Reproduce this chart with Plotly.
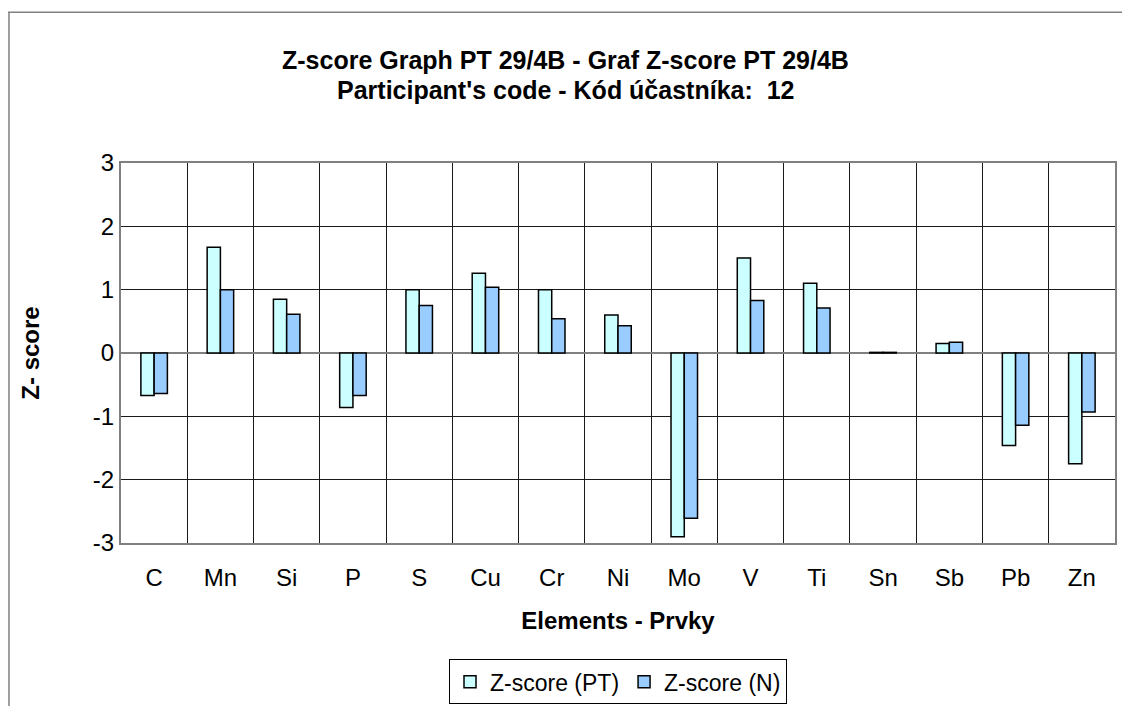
import plotly.graph_objects as go

elements = ["C", "Mn", "Si", "P", "S", "Cu", "Cr", "Ni", "Mo", "V", "Ti", "Sn", "Sb", "Pb", "Zn"]
z_pt = [-0.67, 1.67, 0.85, -0.86, 1.00, 1.26, 1.00, 0.60, -2.90, 1.50, 1.10, 0.01, 0.15, -1.46, -1.75]
z_n = [-0.64, 1.00, 0.61, -0.67, 0.75, 1.04, 0.54, 0.43, -2.61, 0.83, 0.71, 0.01, 0.17, -1.14, -0.93]
y_ticks = [-3, -2, -1, 0, 1, 2, 3]
y_tick_labels = ["-3", "-2", "-1", "0", "1", "2", "3"]

FONT = "Liberation Sans, Arial, sans-serif"
FS = 24
x_idx = list(range(len(elements)))
boundaries = [i - 0.5 for i in range(len(elements) + 1)]

fig = go.Figure()
fig.add_trace(go.Bar(x=x_idx, y=z_pt, name="Z-score (PT)",
                     marker=dict(color="#CCFFFF", line=dict(color="#000000", width=1.5))))
fig.add_trace(go.Bar(x=x_idx, y=z_n, name="Z-score (N)",
                     marker=dict(color="#99CCFF", line=dict(color="#000000", width=1.5))))
# invisible trace to activate the category-boundary grid axis
fig.add_trace(go.Scatter(x=boundaries, y=[0] * len(boundaries), xaxis="x2", mode="none",
                         showlegend=False, hoverinfo="skip"))

fig.update_layout(
    width=1122, height=698,
    paper_bgcolor="white", plot_bgcolor="white",
    margin=dict(l=113, r=15, t=155, b=163, autoexpand=False),
    barmode="group", bargap=0.6, bargroupgap=0,
    font=dict(family=FONT, size=FS, color="#000000"),
    showlegend=True,
    legend=dict(orientation="h", x=0.5, xanchor="center", y=-0.306, yanchor="top",
                bordercolor="#000000", borderwidth=1, font=dict(size=23),
                traceorder="normal", itemwidth=30, tracegroupgap=0),
    xaxis=dict(range=[-0.5, len(elements) - 0.5], tickmode="array", tickvals=x_idx,
               ticktext=elements, showgrid=False, zeroline=False, ticks="",
               ticklabelstandoff=12,
               showline=True, linecolor="#808080", linewidth=2, mirror=True,
               title=dict(text="<b>Elements - Prvky</b>", font=dict(size=FS), standoff=22)),
    xaxis2=dict(overlaying="x", range=[-0.5, len(elements) - 0.5], tickmode="array",
                tickvals=boundaries, showticklabels=False, showgrid=True,
                gridcolor="#1a1a1a", gridwidth=1, zeroline=False, side="bottom"),
    yaxis=dict(range=[-3, 3], tickmode="array", tickvals=y_ticks, ticktext=y_tick_labels,
               showgrid=True, gridcolor="#1a1a1a", gridwidth=1, zeroline=True,
               zerolinecolor="#808080", zerolinewidth=2, showline=True, linecolor="#808080",
               linewidth=2, mirror=True, ticks="", ticklabelstandoff=0,
               title=dict(text="<b>Z- score</b>", font=dict(size=FS), standoff=46)),
    annotations=[
        dict(text="<b>Z-score Graph PT 29/4B - Graf Z-score PT 29/4B</b>", xref="paper", yref="paper",
             x=0.447, y=1.271, xanchor="center", yanchor="middle", showarrow=False,
             font=dict(size=25)),
        dict(text="<b>Participant's code - Kód účastníka:  12</b>", xref="paper", yref="paper",
             x=0.447, y=1.192, xanchor="center", yanchor="middle", showarrow=False,
             font=dict(size=25)),
    ],
    shapes=[
        dict(type="line", xref="paper", yref="paper", x0=-0.1137, x1=1.02, y0=1.397, y1=1.397,
             line=dict(color="#808080", width=1.5)),
        dict(type="line", xref="paper", yref="paper", x0=-0.1127, x1=-0.1127, y0=1.397, y1=-0.43,
             line=dict(color="#808080", width=1.5)),
    ],
)

fig.write_html("out.html")
